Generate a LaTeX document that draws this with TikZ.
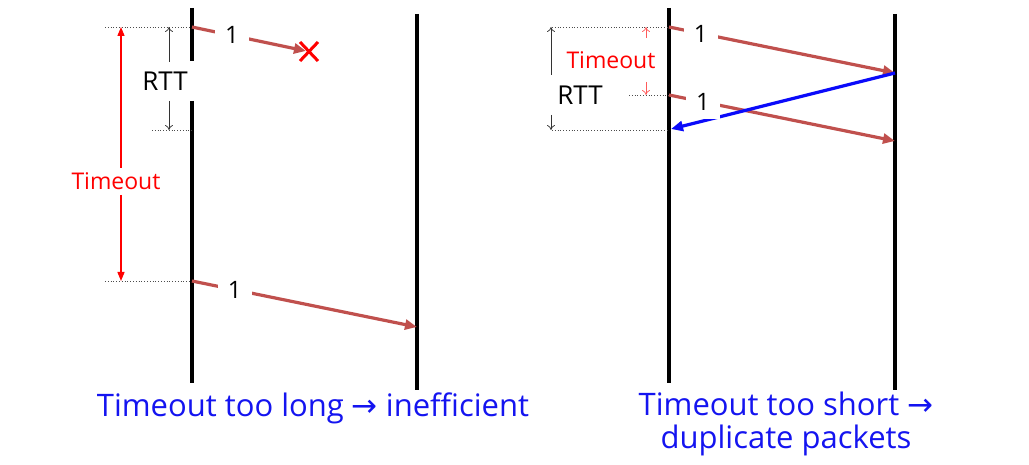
\documentclass[tikz,border=0pt]{standalone}
\usepackage{fontspec}
\setmainfont{Open Sans}
\newfontfamily\arrowfont{DejaVu Sans}
\usetikzlibrary{arrows.meta}
\definecolor{pktred}{RGB}{192,80,77}
\definecolor{ackblue}{RGB}{10,10,250}
\definecolor{tored}{RGB}{255,0,0}
\definecolor{lightred}{RGB}{255,90,90}
\definecolor{capblue}{RGB}{20,20,240}
\begin{document}
\begin{tikzpicture}[x=1pt,y=-1pt,
  timeline/.style={line width=4pt, black},
  pkt/.style={line width=3.2pt, pktred, -{Triangle[length=12pt,width=10pt]}},
  ack/.style={line width=3.2pt, ackblue, -{Triangle[length=12pt,width=10pt]}},
  guide/.style={dotted, black!70, line width=0.8pt},
  rttarrow/.style={line width=0.7pt, black!80, -{To[length=5pt,width=8pt]}},
  toarrow/.style={line width=1.3pt, tored, -{Triangle[length=9pt,width=7pt]}},
  tosmall/.style={line width=0.7pt, lightred, -{To[length=5pt,width=8pt]}},
  xmark/.style={line width=3pt, tored},
  numlbl/.style={fill=white, inner xsep=10pt, inner ysep=6pt, font=\fontsize{24}{26}\selectfont},
  txt/.style={inner sep=0pt, font=\fontsize{26}{28}\selectfont},
  rtxt/.style={inner sep=0pt, text=tored, font=\fontsize{23}{26}\selectfont},
  caption/.style={inner sep=0pt, text=capblue, align=center, font=\fontsize{31}{33}\selectfont}
]
\useasboundingbox (0,0) rectangle (1029,465);

% ---------- left scenario ----------
\coordinate (LAtop) at (192,8);
\coordinate (LAgapT) at (192,61);
\coordinate (LAgapB) at (192,101);
\coordinate (LAbot) at (192,383);
\coordinate (LBtop) at (417,14);
\coordinate (LBbot) at (417,390);
\draw[timeline] (LAtop) -- (LAgapT);
\draw[timeline] (LAgapB) -- (LAbot);
\draw[timeline] (LBtop) -- (LBbot);

\coordinate (LS1) at (192,27);
\coordinate (LS2) at (192,281);
\coordinate (LR2) at (417,327);
\coordinate (LX) at (306,51);
\coordinate (Lg1) at (105,27);
\coordinate (Lg2) at (152,130);
\coordinate (Lg2e) at (192,130);
\coordinate (Lg3) at (105,281);
\draw[guide] (Lg1) -- (LS1);
\draw[guide] (Lg2) -- (Lg2e);
\draw[guide] (Lg3) -- (LS2);

\node[txt] (rttL) at (165,81) {RTT};
\coordinate (rttLa) at (169,62);
\coordinate (rttLat) at (169,27);
\coordinate (rttLb) at (169,101);
\coordinate (rttLbt) at (169,130);
\draw[rttarrow] (rttLa) -- (rttLat);
\draw[rttarrow] (rttLb) -- (rttLbt);

\node[rtxt] (toL) at (116,181) {Timeout};
\coordinate (toLa) at (121,168);
\coordinate (toLat) at (121,27);
\coordinate (toLb) at (121,195);
\coordinate (toLbt) at (121,281);
\draw[toarrow] (toLa) -- (toLat);
\draw[toarrow] (toLb) -- (toLbt);

\draw[pkt] (LS1) -- (LX);
\path (LS1) -- node[numlbl, pos=0.35] (l1) {1} (LX);
\coordinate (X1) at (300,42);
\coordinate (X2) at (318,61);
\coordinate (X3) at (300,61);
\coordinate (X4) at (318,42);
\draw[xmark] (X1) -- (X2);
\draw[xmark] (X3) -- (X4);

\draw[pkt] (LS2) -- (LR2);
\path (LS2) -- node[numlbl, pos=0.19] (l2) {1} (LR2);

\node[caption] (capL) at (313,408) {Timeout too long {\arrowfont →} inefficient};

% ---------- right scenario ----------
\coordinate (RAtop) at (669,8);
\coordinate (RAbot) at (669,383);
\coordinate (RBtop) at (895,14);
\coordinate (RBbot) at (895,390);
\draw[timeline] (RAtop) -- (RAbot);
\draw[timeline] (RBtop) -- (RBbot);

\coordinate (RS1) at (669,27);
\coordinate (RR1) at (895,73);
\coordinate (RS2) at (669,95);
\coordinate (RR2) at (895,141);
\coordinate (RAck) at (671,129);
\coordinate (Rg1) at (552,27);
\coordinate (Rg2) at (629,95);
\coordinate (Rg3) at (552,130);
\coordinate (Rg3e) at (669,130);
\draw[guide] (Rg1) -- (RS1);
\draw[guide] (Rg2) -- (RS2);
\draw[guide] (Rg3) -- (Rg3e);

\node[txt] (rttR) at (580,95) {RTT};
\coordinate (rttRa) at (551,75);
\coordinate (rttRat) at (551,27);
\coordinate (rttRb) at (551,115);
\coordinate (rttRbt) at (551,130);
\draw[rttarrow] (rttRa) -- (rttRat);
\draw[rttarrow] (rttRb) -- (rttRbt);

\node[rtxt] (toR) at (611,60) {Timeout};
\coordinate (toRa) at (646,38);
\coordinate (toRat) at (646,27);
\coordinate (toRb) at (646,82);
\coordinate (toRbt) at (646,95);
\draw[tosmall] (toRa) -- (toRat);
\draw[tosmall] (toRb) -- (toRbt);

\draw[pkt] (RS1) -- (RR1);
\path (RS1) -- node[numlbl, pos=0.14] (r1) {1} (RR1);
\draw[pkt] (RS2) -- (RR2);
\draw[ack] (RR1) -- (RAck);
\path (RS2) -- node[numlbl, pos=0.15, inner ysep=9pt] (r2) {1} (RR2);

\node[caption] (capR) at (786,424) {Timeout too short {\arrowfont →}\\duplicate packets};
\end{tikzpicture}
\end{document}
